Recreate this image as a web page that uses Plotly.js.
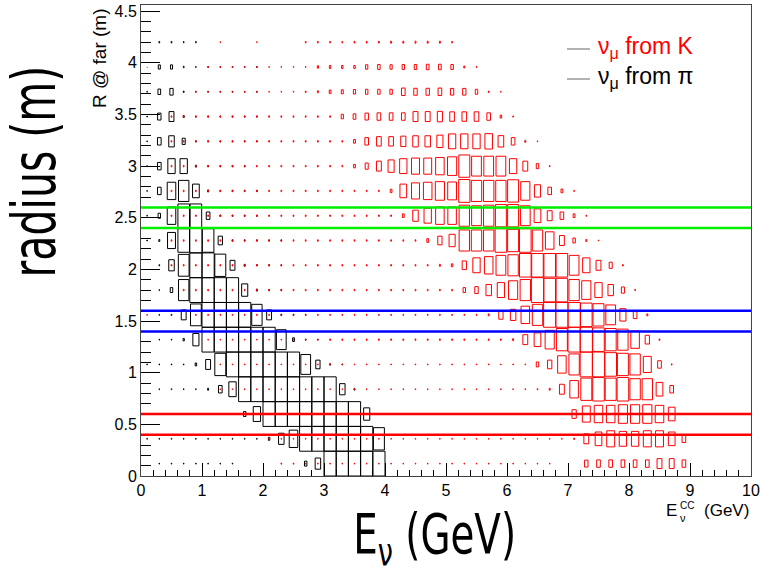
<!DOCTYPE html>
<html>
<head>
<meta charset="utf-8">
<script src="https://cdn.plot.ly/plotly-3.0.1.min.js"></script>
<style>html,body{margin:0;padding:0;background:#fff;}#chart{width:760px;height:573px;}</style>
</head>
<body>
<div id="chart"></div>
<script>
// ---- Histogram binning (E in GeV, R in m) ----
const eBinWidth = 0.2;          // 50 bins over 0..10 GeV
const eBinCount = 50;
const rBinWidth = 0.24;
const rCenters = [0.12,0.36,0.60,0.84,1.08,1.32,1.56,1.80,2.04,2.28,2.52,2.76,3.00,3.24,3.48,3.72,3.96,4.20];

// ---- nu_mu from pi : relative box size (percent of max), rows = rCenters, cols = E bins ----
const piRow0  = [0,4,4,4,4,4,4,4,0,0,0,0,0,20,45,100,100,100,100,100];
const piRow1  = [4,4,4,4,4,4,4,4,4,4,12,45,70,100,100,100,100,100,100,90];
const piRow2  = [0,0,0,0,0,0,0,0,20,60,100,100,100,100,100,100,100,100,50];
const piRow3  = [0,4,4,4,4,8,30,60,100,100,100,100,100,100,100,100,45,7];
const piRow4  = [4,4,4,4,12,40,90,100,100,100,100,100,100,80,35,6,4];
const piRow5  = [0,4,4,10,50,100,100,100,100,100,100,80,15,5,4];
const piRow6  = [0,4,5,40,88,100,100,100,100,85,40,6,5,4];
const piRow7  = [0,4,20,85,100,100,100,100,50,8,5,5];
const piRow8  = [0,5,45,88,100,100,90,40,8,5,5,4];
const piRow9  = [4,8,65,95,100,95,35,6,5,5,5,5];
const piRow10 = [4,20,70,95,95,30,6,5,5,5];
const piRow11 = [4,30,70,85,55,8,5,5,5,5];
const piRow12 = [4,30,60,60,8,5,5,5,5];
const piRow13 = [4,30,45,25,5,4,4,4,4,4];
const piRow14 = [4,28,40,8,4,4,4,4,4,4];
const piRow15 = [4,22,27,6,4,4,4,4,4,4];
const piRow16 = [3,17,17,6,4,4,4,4,4,4];
const piRow17 = [0,6,6,5,5];

// ---- nu_mu from K ----
const kRow0  = [0,0,0,0,0,0,0,0,0,0,0,5,5,4,4,4,4,4,4,4,4,4,4,4,4,4,4,4,4,4,4,4,4,4,0,0,28,30,30,30,30,30,40,40,30];
const kRow1  = [0,0,0,0,0,0,0,0,0,0,4,4,4,4,4,4,4,4,4,4,4,4,4,4,4,4,4,4,4,4,4,4,4,4,4,6,40,55,65,60,60,65,65,55,30];
const kRow2  = [0,0,0,0,0,0,0,0,4,4,4,4,4,4,4,4,4,4,4,4,4,4,4,4,4,4,4,4,4,4,4,4,4,4,0,35,65,70,70,75,75,75,70,55,5];
const kRow3  = [0,0,0,0,0,0,4,4,4,4,4,4,4,4,4,4,4,4,4,4,4,4,4,4,4,4,4,4,4,4,4,4,5,8,40,70,90,95,90,95,85,85,55,30];
const kRow4  = [0,0,0,0,0,0,4,4,4,4,4,4,4,4,4,4,4,4,4,4,4,4,4,4,4,4,4,4,4,4,4,4,20,35,70,85,100,100,95,90,85,65,30,5];
const kRow5  = [0,0,0,0,0,4,4,4,4,4,4,4,4,4,4,6,6,6,6,6,6,6,6,6,6,6,6,6,6,6,8,40,55,75,90,100,100,95,90,85,70,35,6];
const kRow6  = [4,0,0,0,5,5,5,5,5,5,5,5,5,5,5,5,5,5,5,5,5,5,5,5,5,5,5,5,8,35,45,70,85,100,100,100,95,90,80,50,30,8];
const kRow7  = [0,0,0,6,6,6,6,6,6,6,6,6,6,6,6,6,6,6,6,6,6,6,6,6,6,6,20,28,45,60,75,85,100,95,95,85,75,60,45,25,5];
const kRow8  = [0,0,6,6,6,6,6,6,6,6,6,6,6,6,6,6,6,6,6,6,6,6,6,6,8,12,35,60,70,80,85,95,95,95,95,80,60,40,25,6];
const kRow9  = [0,0,6,6,6,6,6,6,6,6,6,6,6,6,6,6,6,6,6,6,6,6,6,15,35,50,85,85,85,95,90,95,85,70,40,20,8,4];
const kRow10 = [0,0,6,6,6,6,6,6,6,6,6,6,6,6,6,6,6,6,6,6,6,15,45,60,70,70,85,80,85,90,90,80,55,40,30,15,5];
const kRow11 = [0,0,6,6,6,6,6,6,6,6,6,6,6,6,6,6,6,6,6,6,14,55,65,70,75,72,92,85,85,85,90,75,50,30,15,5];
const kRow12 = [0,0,6,6,6,6,6,6,6,6,6,6,6,6,6,6,6,14,25,40,50,60,65,65,70,75,90,80,80,80,60,40,20,5];
const kRow13 = [0,0,6,6,6,6,6,6,6,6,6,6,6,6,6,6,6,15,30,38,38,42,45,45,50,60,60,60,62,46,30,8,4];
const kRow14 = [0,0,6,6,6,6,6,6,6,6,6,6,6,6,6,6,18,22,28,30,30,30,40,40,42,38,38,38,30,12,5];
const kRow15 = [0,0,0,0,4,4,4,4,4,4,4,4,4,6,8,14,16,18,20,20,20,30,28,28,30,27,27,20,6,4];
const kRow16 = [0,0,0,0,0,4,4,4,4,4,4,4,4,4,10,12,12,12,18,20,18,20,20,22,22,20,8,5];
const kRow17 = [0,0,0,0,0,0,4,0,0,4,0,0,0,6,6,6,6,7,7,7,8,8,8,8,8,6];

const piRows = [piRow0,piRow1,piRow2,piRow3,piRow4,piRow5,piRow6,piRow7,piRow8,piRow9,piRow10,piRow11,piRow12,piRow13,piRow14,piRow15,piRow16,piRow17];
const kRows  = [kRow0,kRow1,kRow2,kRow3,kRow4,kRow5,kRow6,kRow7,kRow8,kRow9,kRow10,kRow11,kRow12,kRow13,kRow14,kRow15,kRow16,kRow17];

// horizontal radius cuts
const cutValues = [2.4, 2.6, 1.4, 1.6, 0.4, 0.6];
const cutColors = ['#00ee00','#00ee00','#0000ff','#0000ff','#ff0000','#ff0000'];

// Build ROOT-like "BOX" outlines: box side proportional to cell content
function boxOutlines(rows) {
  const xs = [], ys = [];
  rows.forEach((row, j) => {
    const yc = rCenters[j];
    for (let i = 0; i < eBinCount; i++) {
      const v = row[i] || 0;
      if (v <= 0) continue;
      const f = v / 100;
      const xc = (i + 0.5) * eBinWidth;
      const hw = 0.5 * eBinWidth * f, hh = 0.5 * rBinWidth * f;
      xs.push(xc - hw, xc + hw, xc + hw, xc - hw, xc - hw, null);
      ys.push(yc - hh, yc - hh, yc + hh, yc + hh, yc - hh, null);
    }
  });
  return {xs, ys};
}

const pi = boxOutlines(piRows);
const k = boxOutlines(kRows);

const traces = [
  {type:'scatter', mode:'lines', x:pi.xs, y:pi.ys, line:{color:'#000000', width:1}, hoverinfo:'skip', showlegend:false},
  {type:'scatter', mode:'lines', x:k.xs, y:k.ys, line:{color:'#ff0000', width:1}, hoverinfo:'skip', showlegend:false}
];

// layout helpers (pixel -> paper)
const L = 141, R = 751, T = 5, B = 476;
const px = p => (p - L) / (R - L);
const py = p => (B - p) / (B - T);

const shapes = cutValues.map((v, n) => ({
  type:'line', xref:'paper', yref:'y', x0:0, x1:1, y0:v, y1:v,
  line:{color:cutColors[n], width:2.5}, layer:'above'
}));
shapes.push({type:'line', xref:'paper', yref:'paper', x0:px(567), x1:px(590), y0:py(49), y1:py(49), line:{color:'#666', width:1}});
shapes.push({type:'line', xref:'paper', yref:'paper', x0:px(567), x1:px(590), y0:py(79), y1:py(79), line:{color:'#666', width:1}});

const bigFontFamily = '"DejaVu Sans Condensed", "DejaVu Sans", sans-serif';
const helv = 'Liberation Sans, Arial, sans-serif';

const annotations = [
  {xref:'paper', yref:'paper', x:px(596), y:py(48), xanchor:'left', yanchor:'middle', showarrow:false,
   text:'ν<sub>μ</sub> from K', font:{family:helv, size:23, color:'#ff0000'}},
  {xref:'paper', yref:'paper', x:px(596), y:py(78), xanchor:'left', yanchor:'middle', showarrow:false,
   text:'ν<sub>μ</sub> from π', font:{family:helv, size:23, color:'#000'}},
  {xref:'paper', yref:'paper', x:px(34), y:py(172), xanchor:'center', yanchor:'middle', showarrow:false,
   textangle:-90, text:'radius (m)', font:{family:bigFontFamily, size:60, color:'#000'}},
  {xref:'paper', yref:'paper', x:px(434), y:py(537), xanchor:'center', yanchor:'middle', showarrow:false,
   text:'E<sub>ν</sub> (GeV)', font:{family:bigFontFamily, size:56, color:'#000'}},
  {xref:'paper', yref:'paper', x:px(100), y:py(58), xanchor:'center', yanchor:'middle', showarrow:false,
   textangle:-90, text:'R @ far (m)', font:{family:helv, size:19, color:'#000'}},
  {xref:'paper', yref:'paper', x:px(664), y:py(510), xanchor:'left', yanchor:'middle', showarrow:false,
   text:'E', font:{family:helv, size:17, color:'#000'}},
  {xref:'paper', yref:'paper', x:px(678), y:py(505), xanchor:'left', yanchor:'middle', showarrow:false,
   text:'CC', font:{family:helv, size:10, color:'#000'}},
  {xref:'paper', yref:'paper', x:px(678), y:py(518), xanchor:'left', yanchor:'middle', showarrow:false,
   text:'ν', font:{family:helv, size:11, color:'#000'}},
  {xref:'paper', yref:'paper', x:px(751), y:py(510), xanchor:'right', yanchor:'middle', showarrow:false,
   text:'(GeV)', font:{family:helv, size:17, color:'#000'}}
];

const axisCommon = {
  showgrid:false, zeroline:false, showline:true, linecolor:'#444', linewidth:1, mirror:true,
  ticks:'inside', tickcolor:'#000', tickwidth:1,
  tickfont:{family:helv, size:16, color:'#000'}
};

const layout = {
  width:760, height:573,
  margin:{l:L, r:760-R, t:T, b:573-B, pad:0},
  paper_bgcolor:'#fff', plot_bgcolor:'#fff',
  showlegend:false,
  xaxis:Object.assign({}, axisCommon, {range:[0,10], tick0:0, dtick:1, ticklen:13,
    minor:{tick0:0, dtick:0.2, ticklen:6, ticks:'inside', tickcolor:'#000'}}),
  yaxis:Object.assign({}, axisCommon, {range:[0,4.56], tick0:0, dtick:0.5, ticklen:19,
    minor:{tick0:0, dtick:0.1, ticklen:10, ticks:'inside', tickcolor:'#000'}}),
  shapes:shapes,
  annotations:annotations
};

// condensed look for the two large titles (horizontal squeeze about the text centre)
const squeezeByIndex = {2:0.76, 3:0.77};
function squeezeTitles() {
  const gd = document.getElementById('chart');
  gd.querySelectorAll('g.annotation').forEach(g => {
    const idx = +g.getAttribute('data-index');
    const s = squeezeByIndex[idx];
    if (!s) return;
    const t = g.querySelector('text');
    if (!t || t.getAttribute('data-squeezed')) return;
    const bb = t.getBBox();
    const cx = bb.x + bb.width / 2;
    t.setAttribute('transform', 'translate(' + cx + ',0) scale(' + s + ',1) translate(' + (-cx) + ',0)');
    t.setAttribute('data-squeezed', '1');
  });
}

const p = Plotly.newPlot('chart', traces, layout, {staticPlot:true, displayModeBar:false});
squeezeTitles();
if (p && p.then) p.then(squeezeTitles);
</script>
</body>
</html>
